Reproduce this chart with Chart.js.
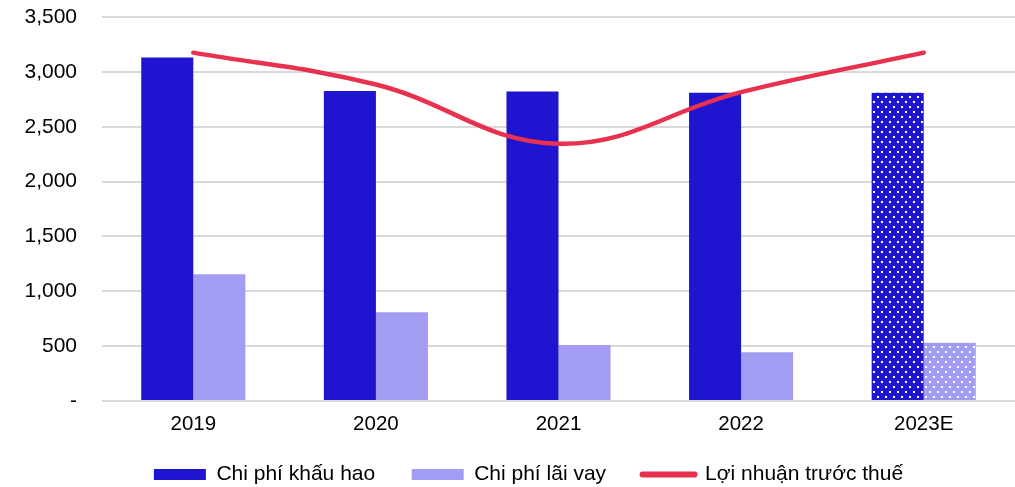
<!DOCTYPE html>
<html>
<head>
<meta charset="utf-8">
<script src="https://cdn.jsdelivr.net/npm/chart.js@4.4.0/dist/chart.umd.min.js"></script>
<style>
  html, body { margin: 0; padding: 0; background: #ffffff; }
  #wrap { width: 1015px; height: 487px; }
</style>
</head>
<body>
<div id="wrap"><canvas id="c" width="1015" height="487"></canvas></div>
<script>
const categories = ['2019', '2020', '2021', '2022', '2023E'];
const depreciation = [3130, 2825, 2820, 2810, 2810];
const interest = [1155, 810, 510, 445, 530];
const profitBeforeTax = [3175, 2885, 2345, 2815, 3175];
const yTickValues = [0, 500, 1000, 1500, 2000, 2500, 3000, 3500];
const seriesNames = ['Chi phí khấu hao', 'Chi phí lãi vay', 'Lợi nhuận trước thuế'];

const DARK = '#1f14d0';
const LIGHT = '#a29cf2';
const RED = '#e8304f';
const FONT = "'Liberation Sans', Arial, sans-serif";

function dotPattern(base) {
  const p = document.createElement('canvas');
  p.width = 8; p.height = 10;
  const g = p.getContext('2d');
  g.fillStyle = base;
  g.fillRect(0, 0, 8, 10);
  g.fillStyle = '#ffffff';
  g.fillRect(1, 1, 2, 2);
  g.fillRect(5, 6, 2, 2);
  return document.getElementById('c').getContext('2d').createPattern(p, 'repeat');
}
const darkPat = dotPattern(DARK);
const lightPat = dotPattern(LIGHT);
const isEstimate = categories.map(c => c.endsWith('E'));

const legendShift = {
  id: 'legendShift',
  afterLayout(chart) {
    const lg = chart.legend;
    if (lg) { lg.left += 21; lg.right += 21; lg.top -= 9.5; lg.bottom -= 9.5; }
  }
};

new Chart(document.getElementById('c'), {
  data: {
    labels: categories,
    datasets: [
      {
        type: 'line',
        label: seriesNames[2],
        data: profitBeforeTax,
        borderColor: RED,
        backgroundColor: RED,
        borderWidth: 4.5,
        pointRadius: 0,
        tension: 0.4,
        borderCapStyle: 'round',
        order: 0
      },
      {
        type: 'bar',
        label: seriesNames[0],
        data: depreciation,
        backgroundColor: isEstimate.map(e => e ? darkPat : DARK),
        categoryPercentage: 0.57,
        barPercentage: 1.0,
        order: 1
      },
      {
        type: 'bar',
        label: seriesNames[1],
        data: interest,
        backgroundColor: isEstimate.map(e => e ? lightPat : LIGHT),
        categoryPercentage: 0.57,
        barPercentage: 1.0,
        order: 1
      }
    ]
  },
  options: {
    responsive: false,
    maintainAspectRatio: false,
    animation: false,
    layout: { padding: { top: 17, right: 0, bottom: -17.5, left: 0 } },
    scales: {
      x: {
        grid: { display: false, drawTicks: false },
        border: { display: false },
        ticks: {
          color: '#000000',
          padding: 11,
          font: { family: FONT, size: 20.5 }
        },
        afterFit: (s) => { s.height = 36; }
      },
      y: {
        min: 0,
        max: 3500,
        afterBuildTicks: (s) => { s.ticks = yTickValues.map(v => ({ value: v })); },
        grid: { color: '#d9d9d9', lineWidth: 2, drawTicks: false },
        border: { display: false },
        ticks: {
          color: '#000000',
          padding: 25,
          font: { family: FONT, size: 21 },
          callback: (v) => v === 0 ? '-' : Number(v).toLocaleString('en-US')
        },
        afterFit: (s) => { s.width = 102; s.paddingTop = 0; s.paddingBottom = 0; }
      }
    },
    plugins: {
      tooltip: { enabled: false },
      legend: {
        position: 'bottom',
        labels: {
          usePointStyle: true,
          pointStyleWidth: 52,
          boxHeight: 11,
          padding: 36.5,
          color: '#000000',
          font: { family: FONT, size: 21 },
          generateLabels: (chart) => [
            { text: seriesNames[0], fillStyle: DARK, strokeStyle: DARK, lineWidth: 0, pointStyle: 'rect', datasetIndex: 1, hidden: false },
            { text: seriesNames[1], fillStyle: LIGHT, strokeStyle: LIGHT, lineWidth: 0, pointStyle: 'rect', datasetIndex: 2, hidden: false },
            { text: seriesNames[2], fillStyle: RED, strokeStyle: RED, lineWidth: 6, lineCap: 'round', pointStyle: 'line', datasetIndex: 0, hidden: false }
          ]
        }
      }
    }
  },
  plugins: [legendShift]
});
</script>
</body>
</html>
